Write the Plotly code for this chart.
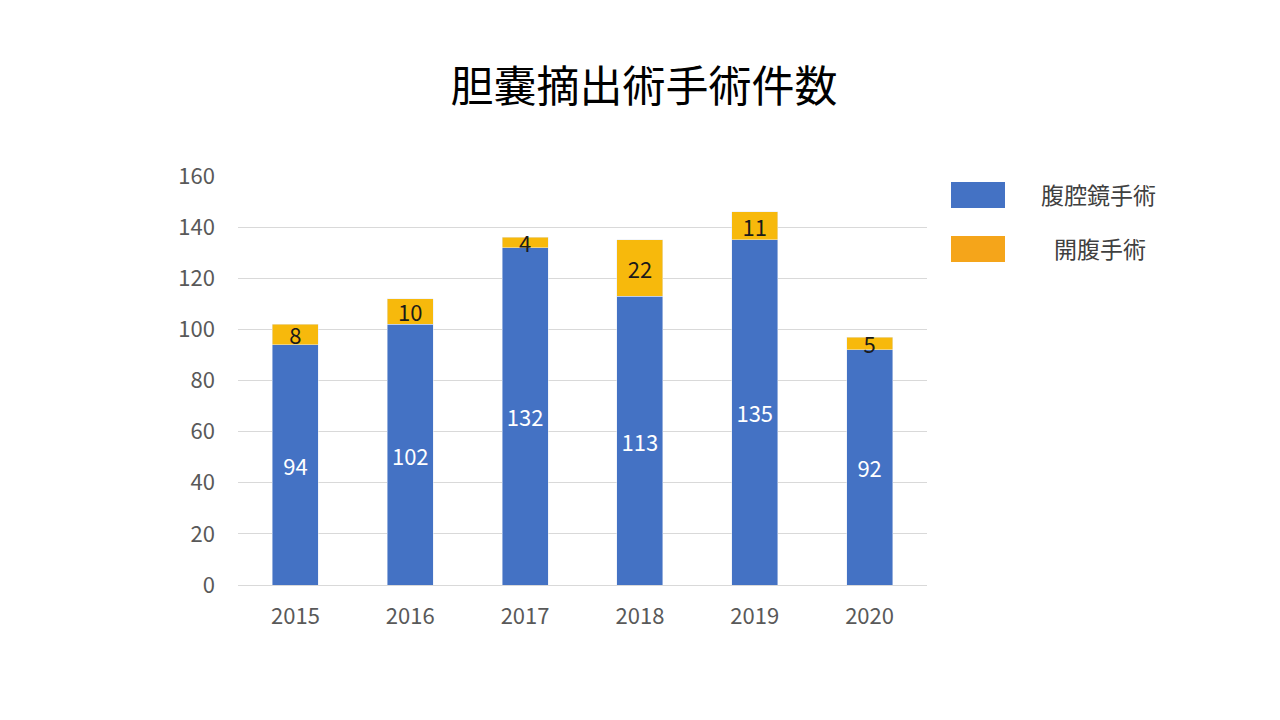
import plotly.graph_objects as go

years = ["2015", "2016", "2017", "2018", "2019", "2020"]
laparoscopic = [94, 102, 132, 113, 135, 92]
open_surgery = [8, 10, 4, 22, 11, 5]
series_names = ["腹腔鏡手術", "開腹手術"]
title_text = "胆嚢摘出術手術件数"
y_ticks = [0, 20, 40, 60, 80, 100, 120, 140, 160]

BLUE = "#4472C4"
ORANGE_BAR = "#F7B90C"
ORANGE_LEG = "#F5A51A"
FONT = "Noto Sans CJK JP"

# page has an 8px body margin; compensate
OFF = 8
W, H = 1280 - OFF, 720 - OFF
PX0, PX1, PY0, PY1 = 238, 927, 176, 585  # plot area in page pixels


def px(xp):
    return (xp - PX0) / (PX1 - PX0)


def py(yp):
    return (PY1 - yp) / (PY1 - PY0)


fig = go.Figure()
fig.add_trace(go.Bar(
    x=years, y=laparoscopic, name=series_names[0], marker_color=BLUE,
    text=[str(v) for v in laparoscopic], textposition="inside", textangle=0,
    insidetextanchor="middle", constraintext="none",
    textfont=dict(color="white", size=22, family=FONT), width=0.4,
    showlegend=False,
))
fig.add_trace(go.Bar(
    x=years, y=open_surgery, name=series_names[1], marker_color=ORANGE_BAR,
    text=[str(v) for v in open_surgery], textposition="inside", textangle=0,
    insidetextanchor="middle", constraintext="none",
    textfont=dict(color="#1a1a1a", size=22, family=FONT), width=0.4,
    showlegend=False,
))

# custom legend
legend_items = [(series_names[0], BLUE, 182, 1098), (series_names[1], ORANGE_LEG, 236, 1100)]
shapes = []
annotations = []
for name, col, top, cx in legend_items:
    shapes.append(dict(type="rect", xref="paper", yref="paper",
                       x0=px(951), x1=px(1005), y0=py(top + 26), y1=py(top),
                       fillcolor=col, line=dict(width=0)))
    annotations.append(dict(xref="paper", yref="paper",
                            x=px(cx), y=py(top + 12),
                            text=name, showarrow=False, xanchor="center", yanchor="middle",
                            font=dict(size=23, color="#404040", family=FONT)))

fig.update_layout(
    barmode="stack",
    width=W, height=H,
    paper_bgcolor="white", plot_bgcolor="white",
    margin=dict(l=PX0 - OFF, r=W - (PX1 - OFF), t=PY0 - OFF, b=H - (PY1 - OFF)),
    title=dict(text=title_text, x=0.5, xanchor="center", y=1 - (87 - OFF) / H, yanchor="middle",
               font=dict(size=43, color="#000000", family=FONT)),
    font=dict(family=FONT),
    shapes=shapes,
    annotations=annotations,
)
fig.update_xaxes(type="category", showgrid=False, showline=True, linecolor="#D9D9D9",
                 ticks="", tickfont=dict(size=22, color="#595959", family=FONT),
                 ticklabelstandoff=12)
fig.update_yaxes(range=[0, 160], tickvals=y_ticks, showgrid=True, gridcolor="#D9D9D9",
                 zeroline=False, showline=False, ticks="",
                 tickfont=dict(size=22, color="#595959", family=FONT), ticklabelstandoff=22)

fig.write_html("out.html")
